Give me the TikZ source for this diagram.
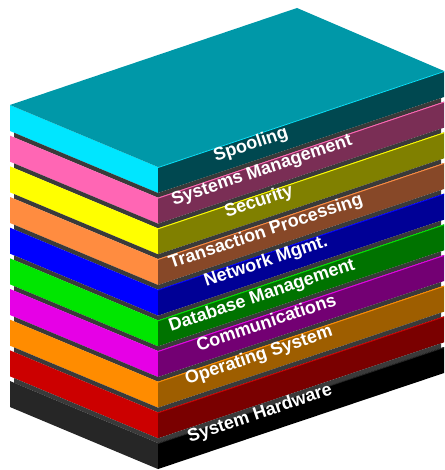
\documentclass[tikz,border=0pt]{standalone}
\usepackage{fontspec}
\setmainfont{Liberation Sans}
\definecolor{topF}{RGB}{0,152,168}
\definecolor{cyanL}{RGB}{0,230,255}
\definecolor{cyanR}{RGB}{0,72,80}
\definecolor{pinkL}{RGB}{255,102,180}
\definecolor{pinkR}{RGB}{122,46,85}
\definecolor{yelL}{RGB}{255,255,0}
\definecolor{yelR}{RGB}{128,128,0}
\definecolor{peachL}{RGB}{255,140,64}
\definecolor{peachR}{RGB}{135,72,40}
\definecolor{blueL}{RGB}{0,0,255}
\definecolor{blueR}{RGB}{0,0,150}
\definecolor{greenL}{RGB}{0,230,0}
\definecolor{greenR}{RGB}{0,115,0}
\definecolor{magL}{RGB}{230,0,230}
\definecolor{magR}{RGB}{115,0,115}
\definecolor{oraL}{RGB}{255,140,0}
\definecolor{oraR}{RGB}{158,94,0}
\definecolor{redL}{RGB}{204,0,0}
\definecolor{redR}{RGB}{122,0,0}
\definecolor{blkL}{RGB}{38,38,38}
\definecolor{blkR}{RGB}{0,0,0}
\definecolor{bandC}{RGB}{58,58,58}
\tikzset{
  layerlabel/.style={text=white, font=\bfseries\fontsize{18}{19}\selectfont, rotate=18.6, inner sep=0pt, anchor=center}
}
\begin{document}
\begin{tikzpicture}[x=1pt,y=-1pt]
\useasboundingbox (0,0) rectangle (444,470);
\begin{scope}
\clip (0,0) rectangle (444,470);
\foreach \k/\lc/\rc in {0/cyanL/cyanR,1/pinkL/pinkR,2/yelL/yelR,3/peachL/peachR,4/blueL/blueR,5/greenL/greenR,6/magL/magR,7/oraL/oraR,8/redL/redR,9/blkL/blkR}{
  \pgfmathsetmacro\t{167+30.67*\k}
  \fill[\lc] (10,\t-62) -- (158,\t) -- (158,\t+26) -- (10,\t-36) -- cycle;
  \fill[\rc] (158,\t) -- (444,\t-96) -- (444,\t-70) -- (158,\t+26) -- cycle;
  \draw[\lc, line width=0.9pt] (158,\t+0.5) -- (444,\t-95.5);
  \ifnum\k<9
  \fill[bandC] (14,\t+26-60.3) -- (158,\t+26) -- (441,\t+26-95) -- (441,\t+30.67-95) -- (158,\t+30.67) -- (14,\t+30.67-60.3) -- cycle;
  \fi
}
\fill[topF] (10,105) -- (297,8) -- (444,71) -- (158,167) -- cycle;
\end{scope}
\node[layerlabel] (l0) at (251,145) {Spooling};
\node[layerlabel] (l1) at (262,171) {Systems Management};
\node[layerlabel] (l2) at (259,202) {Security};
\node[layerlabel] (l3) at (266,232) {Transaction Processing};
\node[layerlabel] (l4) at (266,262) {Network Mgmt.};
\node[layerlabel] (l5) at (262,296) {Database Management};
\node[layerlabel] (l6) at (266,322) {Communications};
\node[layerlabel] (l7) at (259,356) {Operating System};
\node[layerlabel] (l9) at (260,414) {System Hardware};
\end{tikzpicture}
\end{document}
